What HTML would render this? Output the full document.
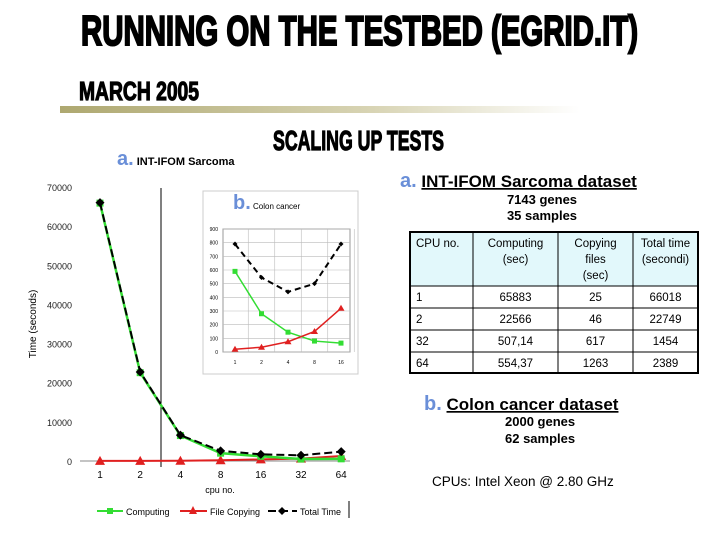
<!DOCTYPE html>
<html><head><meta charset="utf-8"><style>
body{margin:0;background:#fff;width:720px;height:540px;overflow:hidden}
svg{display:block}
text{font-family:"Liberation Sans",sans-serif}
</style></head><body>
<svg id="s" width="720" height="540" xmlns="http://www.w3.org/2000/svg">
<defs><linearGradient id="g" x1="0" x2="1"><stop offset="0" stop-color="#aea870"/><stop offset="0.6" stop-color="#d8d4b4"/><stop offset="1" stop-color="#fff"/></linearGradient></defs>
<text x="81" y="45" font-size="42" font-weight="bold" stroke="#000" stroke-width="2" textLength="557" lengthAdjust="spacingAndGlyphs">RUNNING ON THE TESTBED (EGRID.IT)</text>
<text x="79" y="100" font-size="26" font-weight="bold" stroke="#000" stroke-width="1.2" textLength="120" lengthAdjust="spacingAndGlyphs">MARCH 2005</text>
<rect x="60" y="106" width="520" height="7" fill="url(#g)"/>
<text x="273" y="150" font-size="28" font-weight="bold" stroke="#000" stroke-width="1.2" textLength="171" lengthAdjust="spacingAndGlyphs">SCALING UP TESTS</text>
<text x="117" y="165" font-size="11" font-weight="bold"><tspan fill="#6a8fd8" font-size="20">a.</tspan> INT-IFOM Sarcoma</text>
<g id="main"></g>
<g id="inset"></g>
<g>
<text x="400" y="187" font-size="17" font-weight="bold"><tspan fill="#6a8fd8" font-size="20">a.</tspan> <tspan text-decoration="underline">INT-IFOM Sarcoma dataset</tspan></text>
<text x="542" y="204" font-size="13" font-weight="bold" text-anchor="middle">7143 genes</text>
<text x="542" y="220" font-size="13" font-weight="bold" text-anchor="middle">35 samples</text>
<g id="tbl"></g>
<text x="424" y="410" font-size="17" font-weight="bold"><tspan fill="#6a8fd8" font-size="20">b.</tspan> <tspan text-decoration="underline">Colon cancer dataset</tspan></text>
<text x="505" y="426" font-size="13" font-weight="bold">2000 genes</text>
<text x="505" y="443" font-size="13" font-weight="bold">62 samples</text>
<text x="432" y="486" font-size="13.5">CPUs: Intel Xeon @ 2.80 GHz</text>
</g>
</svg>
<script>
const cats=["1","2","4","8","16","32","64"];
const computing=[65883,22566,6500,2000,1200,507,554];
const copying=[25,46,60,200,400,617,1263];
const total=[66018,22749,6600,2600,1700,1454,2389];
const yTicks=[0,10000,20000,30000,40000,50000,60000,70000];
const inCats=["1","2","4","8","16"];
const inComputing=[590,280,145,80,65];
const inCopying=[20,35,75,150,320];
const inTotal=[790,545,440,500,790];
const inTicks=[0,100,200,300,400,500,600,700,800,900];
const tHead=["CPU no.","Computing|(sec)","Copying|files|(sec)","Total time|(secondi)"];
const tRows=[["1","65883","25","66018"],["2","22566","46","22749"],["32","507,14","617","1454"],["64","554,37","1263","2389"]];
const NS="http://www.w3.org/2000/svg";
function mk(p,t,a,txt){const e=document.createElementNS(NS,t);for(const k in a)e.setAttribute(k,a[k]);if(txt!==undefined)e.textContent=txt;p.appendChild(e);return e;}
const main=document.getElementById('main');
const mx=i=>100+i*40.2, my=v=>461-v*(274/70000);
yTicks.forEach(v=>{const t=mk(main,'text',{x:72,y:my(v)+4,'font-size':9,'text-anchor':'end',fill:'#222'},String(v));

});
mk(main,'line',{x1:80,y1:461,x2:350,y2:461,stroke:'#888','stroke-width':1});
mk(main,'line',{x1:161,y1:188,x2:161,y2:467,stroke:'#000','stroke-width':1});
cats.forEach((c,i)=>{const t=mk(main,'text',{x:mx(i),y:478,'font-size':10,'text-anchor':'middle'},c);

});
const xt=mk(main,'text',{x:220,y:493,'font-size':9,'text-anchor':'middle'},'cpu no.');


const yt=mk(main,'text',{x:0,y:0,'font-size':10,'text-anchor':'middle',transform:'translate(36,324) rotate(-90)'},'Time (seconds)');


function series(g,vals,xf,yf,col,dash,marker,name,ms,w){
 const pl=mk(g,'polyline',{points:vals.map((v,i)=>xf(i)+','+yf(v)).join(' '),fill:'none',stroke:col,'stroke-width':w||2,'stroke-dasharray':dash||''});
 
 
 vals.forEach((v,i)=>{const x=xf(i),y=yf(v);let m;
  if(marker==='sq')m=mk(g,'rect',{x:x-ms,y:y-ms,width:2*ms,height:2*ms,fill:'#33dd33'});
  else if(marker==='tri')m=mk(g,'polygon',{points:`${x},${y-ms-1} ${x-ms-1},${y+ms} ${x+ms+1},${y+ms}`,fill:'#e02020'});
  else m=mk(g,'polygon',{points:`${x},${y-ms} ${x+ms},${y} ${x},${y+ms} ${x-ms},${y}`,fill:'#000'});
  
  });
}
series(main,copying,mx,my,'#e02020','','tri','copying',4,2);
series(main,computing,mx,my,'#33dd33','','sq','computing',3.5,2.5);
series(main,total,mx,my,'#000','8,4','dia','total',4.5,2);
const lg=mk(main,'g',{});


mk(lg,'line',{x1:97,y1:511,x2:123,y2:511,stroke:'#33dd33','stroke-width':2});mk(lg,'rect',{x:107,y:508,width:6,height:6,fill:'#33dd33'});
mk(lg,'text',{x:126,y:515,'font-size':9},'Computing');
mk(lg,'line',{x1:180,y1:511,x2:207,y2:511,stroke:'#e02020','stroke-width':2});mk(lg,'polygon',{points:'193,506 189,514 197,514',fill:'#e02020'});
mk(lg,'text',{x:210,y:515,'font-size':9},'File Copying');
mk(lg,'line',{x1:268,y1:511,x2:297,y2:511,stroke:'#000','stroke-width':2,'stroke-dasharray':'8,4'});mk(lg,'polygon',{points:'282,507 286,511 282,515 278,511',fill:'#000'});
mk(lg,'text',{x:300,y:515,'font-size':9},'Total Time');
mk(lg,'line',{x1:349,y1:501,x2:349,y2:518,stroke:'#000','stroke-width':1});
const ins=document.getElementById('inset');
mk(ins,'rect',{x:203,y:191,width:155,height:183,fill:'#fff',stroke:'#ccc','stroke-width':1});
const it=mk(ins,'text',{x:233,y:209,'font-size':8},'');
it.innerHTML='<tspan fill="#6a8fd8" font-size="20" font-weight="bold">b.</tspan> Colon cancer';


const ix=i=>235+i*26.5, iy=v=>352-v*(123/900);
mk(ins,'rect',{x:223,y:229,width:127,height:123,fill:'none',stroke:'#999'});
inTicks.forEach(v=>{mk(ins,'line',{x1:223,y1:iy(v),x2:350,y2:iy(v),stroke:'#bbb','stroke-width':0.6});
 const t=mk(ins,'text',{x:218,y:iy(v)+2,'font-size':5,'text-anchor':'end'},String(v));
 
 });
inCats.forEach((c,i)=>{mk(ins,'line',{x1:ix(i)+13.25,y1:229,x2:ix(i)+13.25,y2:352,stroke:'#bbb','stroke-width':0.6});
 const t=mk(ins,'text',{x:ix(i),y:364,'font-size':5,'text-anchor':'middle'},c);
 
 });
series(ins,inTotal,ix,iy,'#000','6,4','dia','inset-total',2.5,2);
series(ins,inComputing,ix,iy,'#33dd33','','sq','inset-computing',2.5,1.5);
series(ins,inCopying,ix,iy,'#e02020','','tri','inset-copying',2.5,1.5);
const tb=document.getElementById('tbl');
const cx=[410,473,558,633,698], ry=[232,286,308,330,352,373];
mk(tb,'rect',{x:410,y:232,width:288,height:54,fill:'#e2f8fb'});
tHead.forEach((h,j)=>{h.split('|').forEach((l,k)=>{const t=mk(tb,'text',{x:j==0?416:(cx[j]+cx[j+1])/2,y:247+k*16,'font-size':11.5,'text-anchor':j==0?'start':'middle'},l);
 
 });});
tRows.forEach((r,i)=>r.forEach((c,j)=>{const t=mk(tb,'text',{x:j==0?416:(cx[j]+cx[j+1])/2,y:ry[i+1]+15,'font-size':11.5,'text-anchor':j==0?'start':'middle'},c);
 
 }));
ry.forEach(y=>mk(tb,'line',{x1:410,y1:y,x2:698,y2:y,stroke:'#000','stroke-width':1}));
cx.forEach(x=>mk(tb,'line',{x1:x,y1:232,x2:x,y2:373,stroke:'#000','stroke-width':1}));
mk(tb,'rect',{x:410,y:232,width:288,height:141,fill:'none',stroke:'#000','stroke-width':2});
</script>
</body></html>
